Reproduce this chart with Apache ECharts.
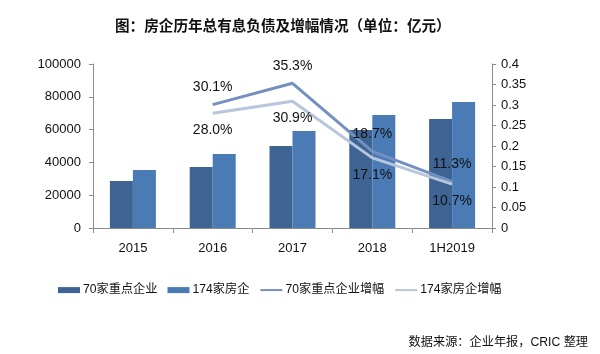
<!DOCTYPE html>
<html>
<head>
<meta charset="utf-8">
<script src="https://cdn.jsdelivr.net/npm/echarts@6/dist/echarts.min.js"></script>
<style>
  html, body { margin: 0; padding: 0; background: #fff; }
  #main { width: 600px; height: 354px; }
</style>
</head>
<body>
<div id="main"></div>
<script>
  // 数据
  var years = ['2015', '2016', '2017', '2018', '1H2019'];
  var debt70 = [28700, 37200, 50000, 59800, 66500];
  var debt174 = [35400, 45100, 59100, 68900, 76800];
  var growth70 = ['-', 0.301, 0.353, 0.187, 0.113];
  var growth174 = ['-', 0.280, 0.309, 0.171, 0.107];
  var names = ['70家重点企业', '174家房企', '70家重点企业增幅', '174家房企增幅'];

  var FONT = 'Liberation Sans, Arial, Noto Sans CJK SC, sans-serif';
  var axisGray = '#8c8c8c';

  function pct(p) {
    return (p.value * 100).toFixed(1) + '%';
  }

  var myChart = echarts.init(document.getElementById('main'));
  var option = {
    backgroundColor: '#fff',
    animation: false,
    textStyle: { fontFamily: FONT },
    title: [
      {
        text: '图：房企历年总有息负债及增幅情况（单位：亿元）',
        left: 110,
        top: 13,
        textStyle: { color: '#111', fontWeight: 'bold', fontSize: 14.6, fontFamily: 'Noto Sans CJK SC' }
      },
      {
        text: '数据来源：企业年报，CRIC 整理',
        right: 7,
        top: 332,
        textStyle: { color: '#111', fontWeight: 'normal', fontSize: 12.2, fontFamily: FONT }
      }
    ],
    legend: {
      left: 53,
      top: 279,
      itemGap: 10,
      itemWidth: 22,
      itemHeight: 6,
      textStyle: { color: '#111', fontSize: 12.2, padding: [0, 0, 0, -2] },
      data: [
        { name: names[0], icon: 'rect' },
        { name: names[1], icon: 'rect' },
        { name: names[2], itemStyle: { opacity: 0 } },
        { name: names[3], itemStyle: { opacity: 0 } }
      ],
      lineStyle: { width: 2 }
    },
    grid: { left: 93, right: 108, top: 64, bottom: 126 },
    xAxis: {
      type: 'category',
      data: years,
      axisLine: { lineStyle: { color: axisGray } },
      axisTick: { show: true, length: 5, lineStyle: { color: axisGray } },
      axisLabel: { color: '#111', fontSize: 13, margin: 14 }
    },
    yAxis: [
      {
        type: 'value',
        min: 0,
        max: 100000,
        interval: 20000,
        splitLine: { show: false },
        axisLine: { show: true, lineStyle: { color: axisGray } },
        axisTick: { show: true, length: 4, lineStyle: { color: axisGray } },
        axisLabel: { color: '#111', fontSize: 13, margin: 12, formatter: function (v) { return String(v); } }
      },
      {
        type: 'value',
        min: 0,
        max: 0.4,
        interval: 0.05,
        splitLine: { show: false },
        axisLine: { show: true, lineStyle: { color: axisGray } },
        axisTick: { show: true, length: 4, lineStyle: { color: axisGray } },
        axisLabel: { color: '#111', fontSize: 13, margin: 9, formatter: function (v) { return String(+v.toFixed(2)); } }
      }
    ],
    series: [
      {
        name: names[0],
        type: 'bar',
        data: debt70,
        barWidth: 23,
        barGap: '0%',
        itemStyle: { color: '#3e6494' }
      },
      {
        name: names[1],
        type: 'bar',
        data: debt174,
        barWidth: 23,
        itemStyle: { color: '#4b7bb5' }
      },
      {
        name: names[2],
        type: 'line',
        yAxisIndex: 1,
        data: growth70,
        symbol: 'circle',
        symbolSize: 0.1,
        showSymbol: true,
        lineStyle: { color: '#7390c0', width: 3 },
        itemStyle: { color: '#7390c0' },
        label: {
          show: true,
          position: 'top',
          distance: 10,
          color: '#111',
          fontSize: 14,
          formatter: pct
        }
      },
      {
        name: names[3],
        type: 'line',
        yAxisIndex: 1,
        data: growth174,
        symbol: 'circle',
        symbolSize: 0.1,
        showSymbol: true,
        lineStyle: { color: '#b7c5dd', width: 3 },
        itemStyle: { color: '#b7c5dd' },
        label: {
          show: true,
          position: 'bottom',
          distance: 10,
          color: '#111',
          fontSize: 14,
          formatter: pct
        }
      }
    ]
  };
  myChart.setOption(option);
</script>
</body>
</html>
